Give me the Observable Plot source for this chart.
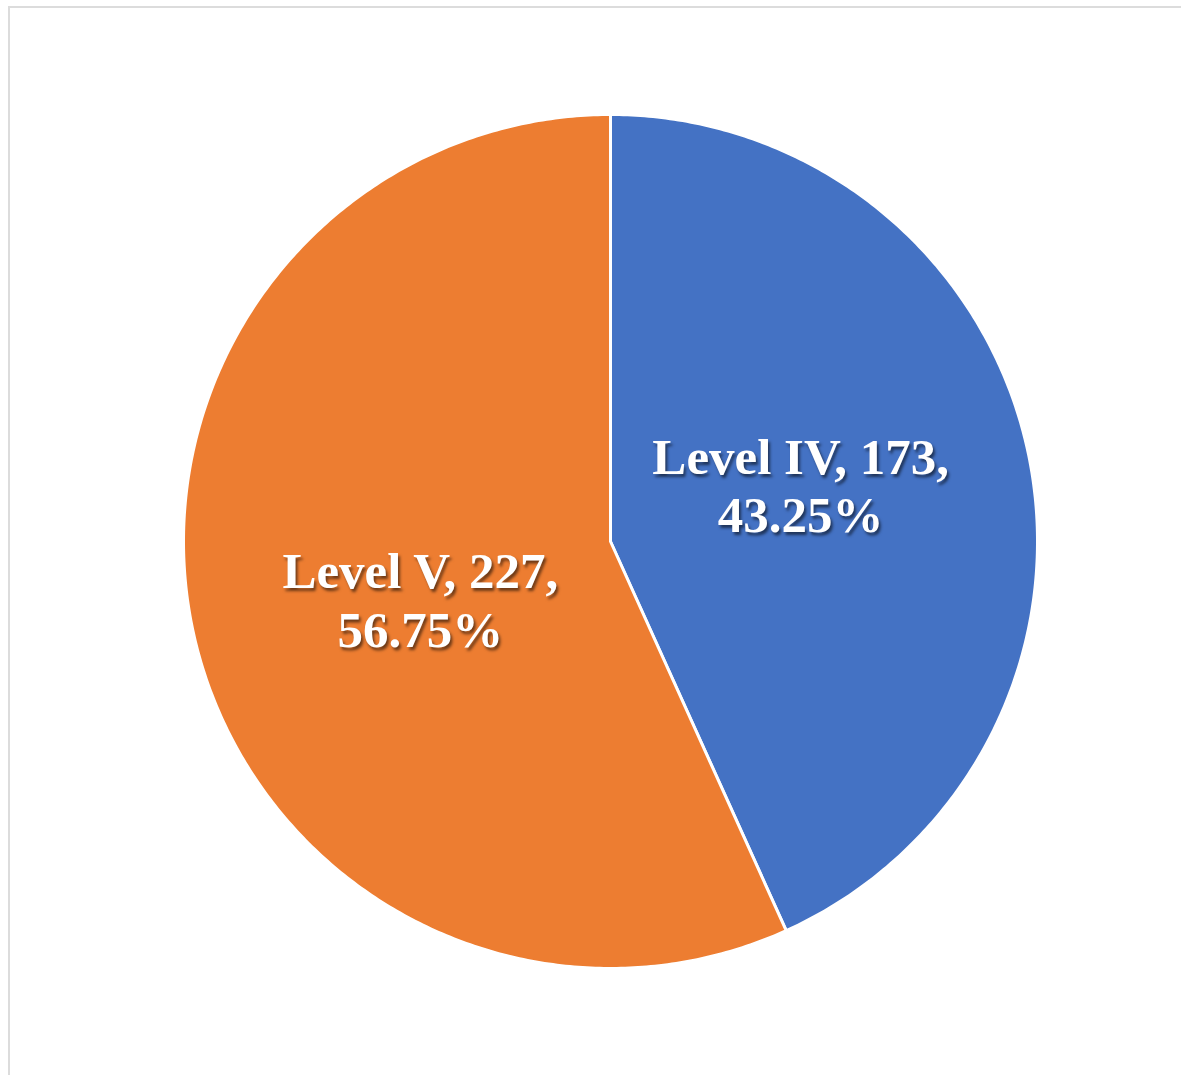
<!DOCTYPE html>
<html>
<head>
<meta charset="utf-8">
<script src="https://cdn.jsdelivr.net/npm/d3@7"></script>
<script src="https://cdn.jsdelivr.net/npm/@observablehq/plot@0.6"></script>
<style>
  html, body { margin: 0; padding: 0; background: #fff; overflow: hidden; }
  #frame { position: absolute; left: 8px; top: 6px; width: 1200px; height: 1100px; border: 2px solid #dcdcdc; box-sizing: border-box; }
  #chart { position: absolute; left: 0; top: 0; }
  #chart text { text-shadow: 2px 3px 3px rgba(0,0,0,0.55); }
</style>
</head>
<body>
<div id="frame"></div>
<div id="chart"></div>
<script>
const categories = ["Level IV", "Level V"];
const counts = [173, 227];
const percents = ["43.25%", "56.75%"];
const colors = ["#4472C4", "#ED7D31"];

const data = categories.map((c, i) => ({category: c, count: counts[i], pct: percents[i], color: colors[i]}));
const arcs = d3.pie().sort(null).value(d => d.count)(data);

// Build slice outlines from pie angles (angle 0 = 12 o'clock, clockwise)
const pts = [];
arcs.forEach(a => {
  const n = Math.max(4, Math.ceil((a.endAngle - a.startAngle) / 0.01));
  pts.push({category: a.data.category, x: 0, y: 0});
  for (let k = 0; k <= n; k++) {
    const t = a.startAngle + (a.endAngle - a.startAngle) * k / n;
    pts.push({category: a.data.category, x: Math.sin(t), y: Math.cos(t)});
  }
});
const labelR = 0.465;
const labelTurn = -0.08;
const labels = arcs.map(a => {
  const m = (a.startAngle + a.endAngle) / 2 + labelTurn;
  return {x: labelR * Math.sin(m), y: labelR * Math.cos(m),
          text: `${a.data.category}, ${a.data.count},\n${a.data.pct}`};
});

const cx = 610, cy = 541, R = 427;
const chart = Plot.plot({
  width: 1181,
  height: 1075,
  margin: 0,
  x: {domain: [-1, 1], range: [cx - R, cx + R], axis: null},
  y: {domain: [-1, 1], range: [cy + R, cy - R], axis: null},
  color: {domain: categories, range: colors},
  marks: [
    Plot.line(pts, {x: "x", y: "y", z: "category", fill: "category", stroke: "white", strokeWidth: 3, strokeLinejoin: "round", curve: "linear-closed"}),
    Plot.text(labels, {x: "x", y: "y", text: "text", fill: "white", fontSize: 51, fontWeight: "bold", fontFamily: "Liberation Serif", lineHeight: 1.15})
  ]
});
document.getElementById("chart").appendChild(chart);
</script>
</body>
</html>
